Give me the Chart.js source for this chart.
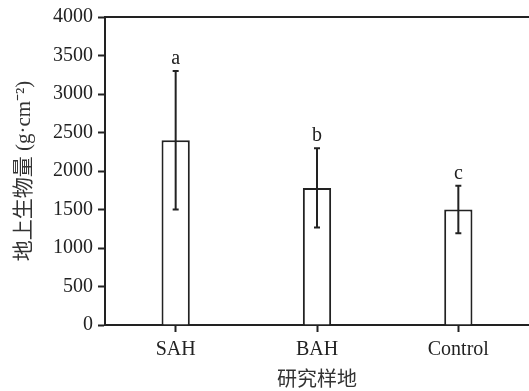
<!DOCTYPE html>
<html>
<head>
<meta charset="utf-8">
<script src="https://cdn.jsdelivr.net/npm/chart.js@4.4.1/dist/chart.umd.min.js"></script>
<style>
  html, body { margin: 0; padding: 0; background: #fff; }
  #wrap { width: 529px; height: 391px; }
</style>
</head>
<body>
<div id="wrap"><canvas id="biomassCanvas" width="529" height="391"></canvas></div>
<script>
// data
var sites = ['SAH', 'BAH', 'Control'];
var biomass = [2400, 1780, 1500];
var errors = [900, 515, 310];
var letters = ['a', 'b', 'c'];
var yTicks = [0, 500, 1000, 1500, 2000, 2500, 3000, 3500, 4000];

var serif = '"Liberation Serif", "Times New Roman", serif';
var cjk = '"Liberation Serif", "Noto Sans CJK SC", serif';

// error bars + significance letters
var errorBars = {
	id: 'errorBars',
	afterDatasetsDraw: function(chart) {
		var ctx = chart.ctx;
		var x = chart.scales.x;
		var y = chart.scales.y;
		ctx.save();
		ctx.strokeStyle = '#222';
		ctx.lineWidth = 2;
		for (var i = 0; i < biomass.length; i++) {
			var px = x.getPixelForValue(i);
			var top = y.getPixelForValue(biomass[i] + errors[i]);
			var bot = y.getPixelForValue(biomass[i] - errors[i]);
			ctx.beginPath();
			ctx.moveTo(px, top); ctx.lineTo(px, bot);
			ctx.moveTo(px - 3, top); ctx.lineTo(px + 3, top);
			ctx.moveTo(px - 3, bot); ctx.lineTo(px + 3, bot);
			ctx.stroke();
			ctx.fillStyle = '#222';
			ctx.font = '20px ' + serif;
			ctx.textAlign = 'center';
			ctx.textBaseline = 'alphabetic';
			ctx.fillText(letters[i], px, top - 7);
		}
		// top frame line
		var a = chart.chartArea;
		ctx.beginPath();
		ctx.moveTo(a.left, a.top); ctx.lineTo(a.right, a.top);
		ctx.stroke();
		ctx.restore();
	}
};

var chartdata = {
	labels: sites,
	datasets: [
		{
			label: '地上生物量',
			data: biomass,
			backgroundColor: '#fff',
			borderColor: '#222',
			borderWidth: 2,
			barPercentage: 0.4,
			categoryPercentage: 0.5
		}
	]
};

var ctx = document.getElementById('biomassCanvas');
var barGraph = new Chart(ctx, {
	type: 'bar',
	data: chartdata,
	plugins: [errorBars],
	options: {
		responsive: false,
		animation: false,
		layout: { padding: { top: 13, right: 0, left: 8, bottom: 0 } },
		plugins: {
			legend: { display: false },
			tooltip: { enabled: false }
		},
		scales: {
			x: {
				offset: true,
				grid: { offset: false, drawOnChartArea: false, tickLength: 7, tickColor: '#222', tickWidth: 2 },
				border: { color: '#222', width: 2 },
				ticks: { color: '#222', font: { family: serif, size: 20 }, padding: 6 },
				title: { display: true, text: '研究样地', color: '#333', font: { family: cjk, size: 20 }, padding: { top: 4, bottom: -2 } },
				afterFit: function(scale) { scale.height = 66; }
			},
			y: {
				min: 0,
				max: 4000,
				afterBuildTicks: function(scale) {
					scale.ticks = yTicks.map(function(v) { return { value: v }; });
				},
				grid: { drawOnChartArea: false, tickLength: 7, tickColor: '#222', tickWidth: 2 },
				border: { color: '#222', width: 2 },
				ticks: {
					color: '#222', font: { family: serif, size: 20 }, padding: 5,
					callback: function(v) { return String(v); }
				},
				title: { display: true, text: '地上生物量 (g·cm⁻²)', color: '#333', font: { family: cjk, size: 21 }, padding: { bottom: 2 } },
				afterFit: function(scale) { scale.width = 97; }
			}
		}
	}
});
</script>
</body>
</html>
